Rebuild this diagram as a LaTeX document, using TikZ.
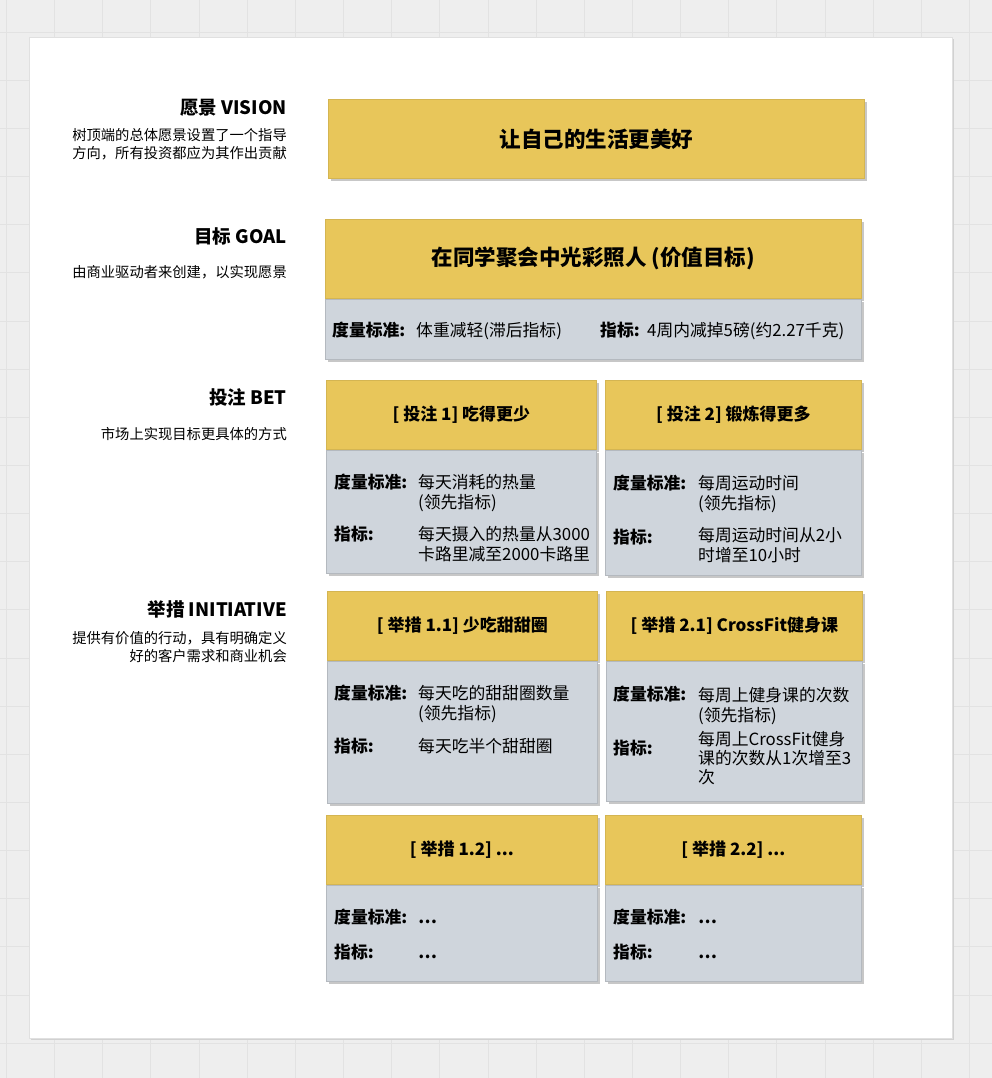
\documentclass[tikz,border=0pt]{standalone}
\usepackage{fontspec}
\setmainfont{Noto Sans CJK SC}
\usetikzlibrary{positioning,shadows}

\definecolor{gold}{RGB}{232,198,90}
\definecolor{goldline}{RGB}{212,181,82}
\definecolor{slate}{RGB}{207,213,220}
\definecolor{slateline}{RGB}{180,185,191}
\definecolor{canvas}{RGB}{238,238,238}
\definecolor{gridline}{RGB}{226,226,226}

\begin{document}
\begin{tikzpicture}[x=1pt,y=-1pt,
  myshadow/.style={general shadow={fill=black!22,shadow xshift=2.5pt,shadow yshift=-2.5pt}},
  myhead/.style={draw=goldline,fill=gold,line width=0.8pt,inner sep=0pt,myshadow,
    font=\fontsize{17}{20}\selectfont\bfseries},
  mybody/.style={draw=slateline,fill=slate,line width=0.8pt,inner sep=0pt,myshadow},
  sidetitle/.style={anchor=base east,inner sep=0pt,font=\fontsize{18.5}{22}\selectfont\bfseries},
  sidetext/.style={anchor=base east,inner sep=0pt,align=right,font=\fontsize{14.3}{18}\selectfont},
  lbl/.style={anchor=base west,inner sep=0pt,font=\fontsize{16.8}{20}\selectfont\bfseries},
  val/.style={anchor=base west,inner sep=0pt,align=left,font=\fontsize{16.8}{20}\selectfont}]
\useasboundingbox (0,0) rectangle (992,1078);
\fill[canvas] (0,0) rectangle (992,1078);
\foreach \gx in {0,...,20} \draw[gridline] ({6.2+48.15*\gx},0) -- ++(0,1078);
\foreach \gy in {0,...,21} \draw[gridline] (0,{31.8+48.15*\gy}) -- ++(992,0);
\filldraw[draw=black!12,fill=white,general shadow={fill=black!18,shadow xshift=2pt,shadow yshift=-2pt}]
  (29,37) rectangle (952,1038);

% left column
\node[sidetitle] (visT) at (287,115) {愿景 VISION};
\node[sidetext] (visD) at (287,159) {树顶端的总体愿景设置了一个指导\\方向，所有投资都应为其作出贡献};
\node[sidetitle] (goalT) at (287,243.5) {目标 GOAL};
\node[sidetext] (goalD) at (287,277) {由商业驱动者来创建，以实现愿景};
\node[sidetitle] (betT) at (287,404.5) {投注 BET};
\node[sidetext] (betD) at (287,439) {市场上实现目标更具体的方式};
\node[sidetitle] (iniT) at (287,616.5) {举措 INITIATIVE};
\node[sidetext] (iniD) at (287,661) {提供有价值的行动，具有明确定义\\好的客户需求和商业机会};

% vision and goal
\node[myhead, anchor=north west, minimum width=536pt, minimum height=79pt,
  font=\fontsize{21.5}{25}\selectfont\bfseries] (vis) at (328,99) {让自己的生活更美好};
\node[myhead, anchor=north west, minimum width=536pt, minimum height=79pt,
  font=\fontsize{21.5}{25}\selectfont\bfseries] (goal) at (325,219) {在同学聚会中光彩照人 (价值目标)};
\node[mybody, minimum width=536pt, minimum height=60pt, below=0pt of goal] (goalB) {};
\node[lbl] (goalL1) at (332,336) {度量标准:};
\node[val] (goalV1) at (416,336) {体重减轻(滞后指标)};
\node[lbl] (goalL2) at (600,336) {指标:};
\node[val] (goalV2) at (647,336) {4周内减掉5磅(约2.27千克)};

% bets
\node[myhead, anchor=north west, minimum width=270pt, minimum height=69pt] (bet1) at (326,380) {[ 投注 1] 吃得更少};
\node[mybody, minimum width=270pt, minimum height=123pt, below=0pt of bet1] (bet1B) {};
\node[lbl] (bet1L1) at (334,488) {度量标准:};
\node[val] (bet1V1) at (418,508) {每天消耗的热量\\(领先指标)};
\node[lbl] (bet1L2) at (334,540) {指标:};
\node[val] (bet1V2) at (418,560) {每天摄入的热量从3000\\卡路里减至2000卡路里};

\node[myhead, anchor=north west, minimum width=256pt, minimum height=69pt] (bet2) at (605,380) {[ 投注 2] 锻炼得更多};
\node[mybody, minimum width=256pt, minimum height=125pt, below=0pt of bet2] (bet2B) {};
\node[lbl] (bet2L1) at (613,489) {度量标准:};
\node[val] (bet2V1) at (698,509) {每周运动时间\\(领先指标)};
\node[lbl] (bet2L2) at (613,543) {指标:};
\node[val] (bet2V2) at (698,561) {每周运动时间从2小\\时增至10小时};

% initiatives
\node[myhead, anchor=north west, minimum width=270pt, minimum height=69pt] (ini11) at (327,591) {[ 举措 1.1] 少吃甜甜圈};
\node[mybody, minimum width=270pt, minimum height=142pt, below=0pt of ini11] (ini11B) {};
\node[lbl] (ini11L1) at (334,699) {度量标准:};
\node[val] (ini11V1) at (418,719) {每天吃的甜甜圈数量\\(领先指标)};
\node[lbl] (ini11L2) at (334,752) {指标:};
\node[val] (ini11V2) at (418,752) {每天吃半个甜甜圈};

\node[myhead, anchor=north west, minimum width=256pt, minimum height=69pt] (ini21) at (606,591) {[ 举措 2.1] CrossFit健身课};
\node[mybody, minimum width=256pt, minimum height=140pt, below=0pt of ini21] (ini21B) {};
\node[lbl] (ini21L1) at (613,700) {度量标准:};
\node[val] (ini21V1) at (698,721) {每周上健身课的次数\\(领先指标)};
\node[lbl] (ini21L2) at (613,754) {指标:};
\node[val, font=\fontsize{16.8}{19}\selectfont] (ini21V2) at (698,783) {每周上CrossFit健身\\课的次数从1次增至3\\次};

\node[myhead, anchor=north west, minimum width=271pt, minimum height=69pt] (ini12) at (326,815) {[ 举措 1.2] ...};
\node[mybody, minimum width=271pt, minimum height=96pt, below=0pt of ini12] (ini12B) {};
\node[lbl] (ini12L1) at (334,923) {度量标准:};
\node[lbl] (ini12V1) at (418,923) {…};
\node[lbl] (ini12L2) at (334,958) {指标:};
\node[lbl] (ini12V2) at (418,958) {…};

\node[myhead, anchor=north west, minimum width=256pt, minimum height=69pt] (ini22) at (605,815) {[ 举措 2.2] ...};
\node[mybody, minimum width=256pt, minimum height=96pt, below=0pt of ini22] (ini22B) {};
\node[lbl] (ini22L1) at (613,923) {度量标准:};
\node[lbl] (ini22V1) at (698,923) {…};
\node[lbl] (ini22L2) at (613,958) {指标:};
\node[lbl] (ini22V2) at (698,958) {…};
\end{tikzpicture}
\end{document}
